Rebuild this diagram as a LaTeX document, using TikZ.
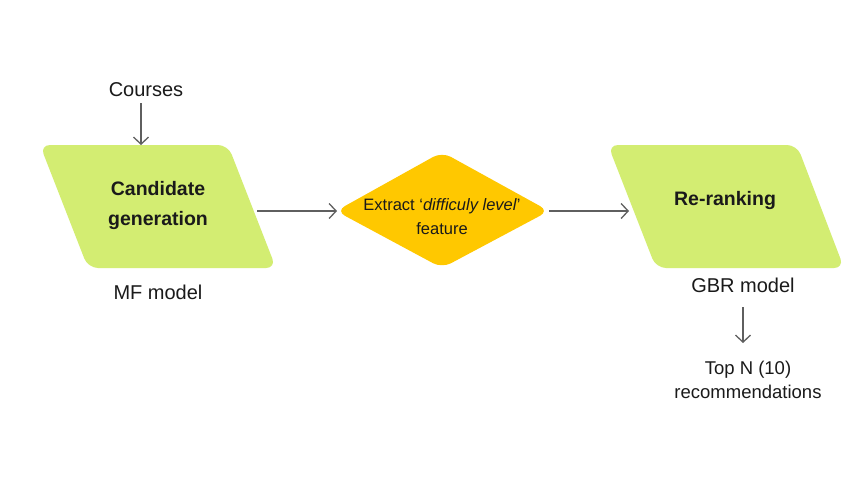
\documentclass[tikz,border=0pt]{standalone}
\usepackage{fontspec}
\setmainfont{Liberation Sans}
\usetikzlibrary{arrows.meta}
\definecolor{boxgreen}{HTML}{D3ED72}
\definecolor{diamyellow}{HTML}{FFC800}
\definecolor{arrowgray}{HTML}{5F5F5F}
\definecolor{txt}{HTML}{1A1A1A}
\begin{document}
\begin{tikzpicture}[x=1pt,y=-1pt,
  shapefill/.style={fill=boxgreen, rounded corners=10pt},
  diamfill/.style={fill=diamyellow, rounded corners=10pt},
  conn/.style={draw=arrowgray, line width=1.3pt, -{Straight Barb[length=7pt,width=15pt,line width=1.3pt]}},
  title/.style={text=txt, font=\fontsize{19.5}{30}\selectfont\bfseries, align=center},
  label/.style={text=txt, font=\fontsize{20}{24}\selectfont, align=center},
  dlabel/.style={text=txt, font=\fontsize{16.5}{24}\selectfont, align=center}]
\useasboundingbox (0,0) rectangle (866,499);
\fill[white] (0,0) rectangle (866,499);
% left parallelogram
\path[shapefill] (40,145) -- (228,145) -- (276,268) -- (88,268) -- cycle;
\node[title] (cand) at (158,205) {Candidate\\generation};
% diamond
\path[diamfill] (336,211) -- (442,152) -- (549,211) -- (442,268) -- cycle;
\node[dlabel] (extract) at (442,217) {Extract ‘\textit{difficuly level}’\\feature};
% right parallelogram
\path[shapefill] (608,145) -- (797,145) -- (844,268) -- (656,268) -- cycle;
\node[title] (rerank) at (725,200) {Re-ranking};
% labels
\node[label] (courses) at (146,90) {Courses};
\node[label] (mf) at (158,292) {MF model};
\node[label] (gbr) at (743,285) {GBR model};
\node[label, font=\fontsize{18.5}{24}\selectfont] (top) at (748,380) {Top N (10)\\recommendations};
% connector anchors
\coordinate (candE) at (257,211);
\coordinate (candN) at (141,145);
\coordinate (diamW) at (337,211);
\coordinate (diamE) at (549,211);
\coordinate (rerW) at (629,211);
\draw[conn] (141,103) -- (candN);
\draw[conn] (candE) -- (diamW);
\draw[conn] (diamE) -- (rerW);
\draw[conn] (743,307) -- (743,343);
\end{tikzpicture}
\end{document}
